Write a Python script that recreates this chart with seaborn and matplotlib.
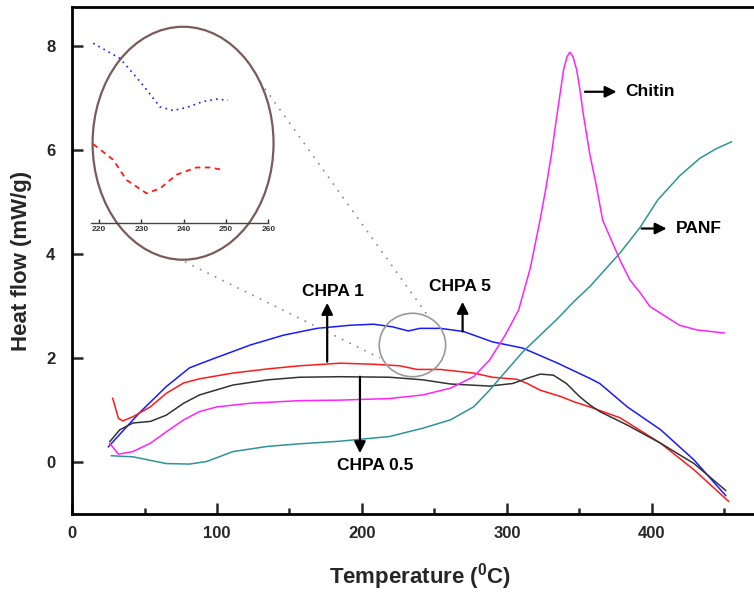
import numpy as np
import pandas as pd
import matplotlib
matplotlib.use('Agg')
import matplotlib.pyplot as plt
from matplotlib.patches import Ellipse
from matplotlib.ticker import MultipleLocator
import seaborn as sns

# DSC curves (temperature in C, heat flow in mW/g)
t_chpa5 = [25, 47, 65, 81, 95, 123, 146, 169, 192, 208, 221, 232, 240, 254, 270, 290, 311, 335, 357, 364, 383, 406, 429, 451]
h_chpa5 = [0.29, 0.96, 1.45, 1.81, 1.96, 2.25, 2.44, 2.57, 2.63, 2.65, 2.60, 2.52, 2.57, 2.57, 2.51, 2.31, 2.19, 1.90, 1.61, 1.51, 1.06, 0.62, 0.04, -0.65]

t_chpa1 = [28, 32, 35, 42, 54, 65, 77, 88, 111, 135, 157, 185, 208, 226, 238, 254, 277, 290, 307, 314, 323, 337, 346, 357, 364, 378, 406, 429, 453]
h_chpa1 = [1.23, 0.84, 0.79, 0.87, 1.06, 1.32, 1.52, 1.60, 1.71, 1.79, 1.85, 1.90, 1.88, 1.85, 1.78, 1.78, 1.71, 1.63, 1.59, 1.51, 1.38, 1.26, 1.16, 1.06, 0.99, 0.85, 0.36, -0.15, -0.76]

t_chpa05 = [26, 33, 42, 54, 65, 77, 88, 111, 135, 157, 185, 219, 242, 261, 288, 304, 314, 323, 332, 341, 350, 357, 364, 383, 406, 429, 451]
h_chpa05 = [0.39, 0.62, 0.75, 0.78, 0.90, 1.13, 1.29, 1.48, 1.58, 1.63, 1.64, 1.63, 1.58, 1.50, 1.46, 1.51, 1.61, 1.69, 1.67, 1.51, 1.26, 1.10, 0.97, 0.71, 0.36, -0.03, -0.55]

t_chitin = [26, 32, 42, 54, 65, 77, 88, 100, 123, 157, 185, 219, 242, 261, 277, 288, 299, 308, 316, 322.8, 327, 330.8, 334, 337, 339, 341.5, 343.4, 345.5, 348, 350, 352.6, 357, 361.8, 366, 371, 378, 384.8, 392, 398.6, 406, 419, 431, 450]
h_chitin = [0.36, 0.15, 0.20, 0.36, 0.58, 0.81, 0.97, 1.06, 1.13, 1.18, 1.19, 1.22, 1.29, 1.42, 1.64, 1.96, 2.45, 2.92, 3.72, 4.65, 5.29, 5.94, 6.58, 7.15, 7.54, 7.80, 7.88, 7.80, 7.55, 7.22, 6.70, 5.94, 5.29, 4.65, 4.33, 3.88, 3.50, 3.25, 2.99, 2.86, 2.63, 2.54, 2.48]

t_panf = [27, 42, 65, 81, 93, 111, 135, 157, 185, 219, 242, 261, 277, 288, 300, 311, 323, 335, 346, 357, 378, 392, 404, 419, 433, 444, 455]
h_panf = [0.12, 0.10, -0.03, -0.04, 0.01, 0.20, 0.30, 0.35, 0.40, 0.49, 0.65, 0.81, 1.06, 1.38, 1.77, 2.12, 2.44, 2.76, 3.08, 3.37, 4.02, 4.52, 5.04, 5.50, 5.84, 6.02, 6.16]

# zoomed inset (temperature, arbitrary offset units)
t_in_blue = [218.6, 224.9, 229.7, 234.4, 237.5, 240.7, 244.6, 247.8, 250.5]
h_in_blue = [3.00, 2.75, 2.36, 1.94, 1.88, 1.93, 2.03, 2.07, 2.05]
t_in_red = [218.6, 223.3, 226.5, 231.2, 234.4, 238.3, 243.0, 246.2, 249.3]
h_in_red = [1.32, 1.06, 0.72, 0.50, 0.58, 0.81, 0.93, 0.93, 0.89]

series = [
    ('CHPA 5', t_chpa5, h_chpa5, '#1a1aff'),
    ('CHPA 1', t_chpa1, h_chpa1, '#ff1a1a'),
    ('CHPA 0.5', t_chpa05, h_chpa05, '#333333'),
    ('Chitin', t_chitin, h_chitin, '#ff22ff'),
    ('PANF', t_panf, h_panf, '#2e9494'),
]

sns.set_style('ticks')
plt.rcParams['font.family'] = ['Liberation Sans', 'DejaVu Sans']
plt.rcParams['font.weight'] = 'bold'
plt.rcParams['mathtext.fontset'] = 'custom'
plt.rcParams['mathtext.bf'] = 'Liberation Sans:bold'
plt.rcParams['mathtext.rm'] = 'Liberation Sans:bold'

fig = plt.figure(figsize=(7.54, 5.94), dpi=100)
ax = fig.add_axes([0.0955, 0.1347, 0.923, 0.8535])

for name, t, h, c in series:
    df = pd.DataFrame({'T': t, 'H': h})
    sns.lineplot(data=df, x='T', y='H', ax=ax, color=c, lw=1.1, sort=False)

ax.set_xlim(0, 480)
ax.set_ylim(-1, 8.75)
ax.xaxis.set_major_locator(MultipleLocator(100))
ax.xaxis.set_minor_locator(MultipleLocator(50))
ax.yaxis.set_major_locator(MultipleLocator(2))
ax.tick_params(which='major', direction='in', length=8, width=1.8, labelsize=12, top=False, right=False)
ax.tick_params(which='minor', direction='in', length=4.5, width=1.8, top=False, right=False)
ax.tick_params(axis='y', pad=12)
ax.tick_params(axis='x', pad=9)
for s in ax.spines.values():
    s.set_linewidth(2)
    s.set_color('black')
for lab in ax.get_xticklabels() + ax.get_yticklabels():
    lab.set_fontweight('bold')
ax.set_xlabel(r'Temperature ($\mathbf{^{0}}$C)', fontsize=16, fontweight='bold', labelpad=14)
ax.set_ylabel('Heat flow (mW/g)', fontsize=16, fontweight='bold', labelpad=10)

# annotations
txt = dict(fontsize=12.5, fontweight='bold', color='black')
arr = dict(arrowstyle='-|>', color='black', lw=1.6, mutation_scale=17, shrinkA=0, shrinkB=0)
ax.annotate('', xy=(176, 3.06), xytext=(176, 1.93), arrowprops=arr)
ax.text(180, 3.27, 'CHPA 1', ha='center', va='center', **txt)
ax.annotate('', xy=(269.4, 3.08), xytext=(269.4, 2.51), arrowprops=arr)
ax.text(267.6, 3.37, 'CHPA 5', ha='center', va='center', **txt)
ax.annotate('', xy=(198.6, 0.17), xytext=(198.6, 1.64), arrowprops=arr)
ax.text(209, -0.06, 'CHPA 0.5', ha='center', va='center', **txt)
ax.annotate('', xy=(375.6, 7.12), xytext=(353.8, 7.12), arrowprops=arr)
ax.text(381.4, 7.12, 'Chitin', ha='left', va='center', **txt)
ax.annotate('', xy=(410.1, 4.49), xytext=(392.9, 4.49), arrowprops=arr)
ax.text(416.6, 4.49, 'PANF', ha='left', va='center', **txt)

# magnifier circle, big ellipse and dotted connectors
ax.add_patch(Ellipse((234.8, 2.25), 45.8, 1.22, fill=False, ec='#999999', lw=1.2, zorder=5))
ax.add_patch(Ellipse((76.6, 6.13), 124.8, 4.48, fill=False, ec='#7a5a5a', lw=1.6, zorder=5))
ax.plot([129.7, 245.5], [7.31, 2.81], ls=(0, (1, 4)), color='#888888', lw=1.2)
ax.plot([77.9, 212.4], [3.85, 2.0], ls=(0, (1, 4)), color='#888888', lw=1.2)

# inset
ins = fig.add_axes([0.1203, 0.6241, 0.2355, 0.3232])
ins.patch.set_alpha(0)
sns.lineplot(x=t_in_blue, y=h_in_blue, ax=ins, color='#1a1aff', lw=1.2, ls=(0, (1, 2.5)))
sns.lineplot(x=t_in_red, y=h_in_red, ax=ins, color='#ff1a1a', lw=1.3, ls=(0, (3, 2.5)))
ins.set_xlim(218, 260)
ins.set_ylim(0, 3.2)
for k in ['left', 'right', 'top']:
    ins.spines[k].set_visible(False)
ins.spines['bottom'].set_color('#444444')
ins.spines['bottom'].set_linewidth(1)
ins.set_yticks([])
ins.set_xticks([220, 230, 240, 250, 260])
ins.tick_params(axis='x', direction='in', length=3, width=1, labelsize=6, pad=2, colors='#333333')
for lab in ins.get_xticklabels():
    lab.set_fontweight('bold')
ins.set_xlabel('')
ins.set_ylabel('')

fig.savefig('out.png', dpi=100)
